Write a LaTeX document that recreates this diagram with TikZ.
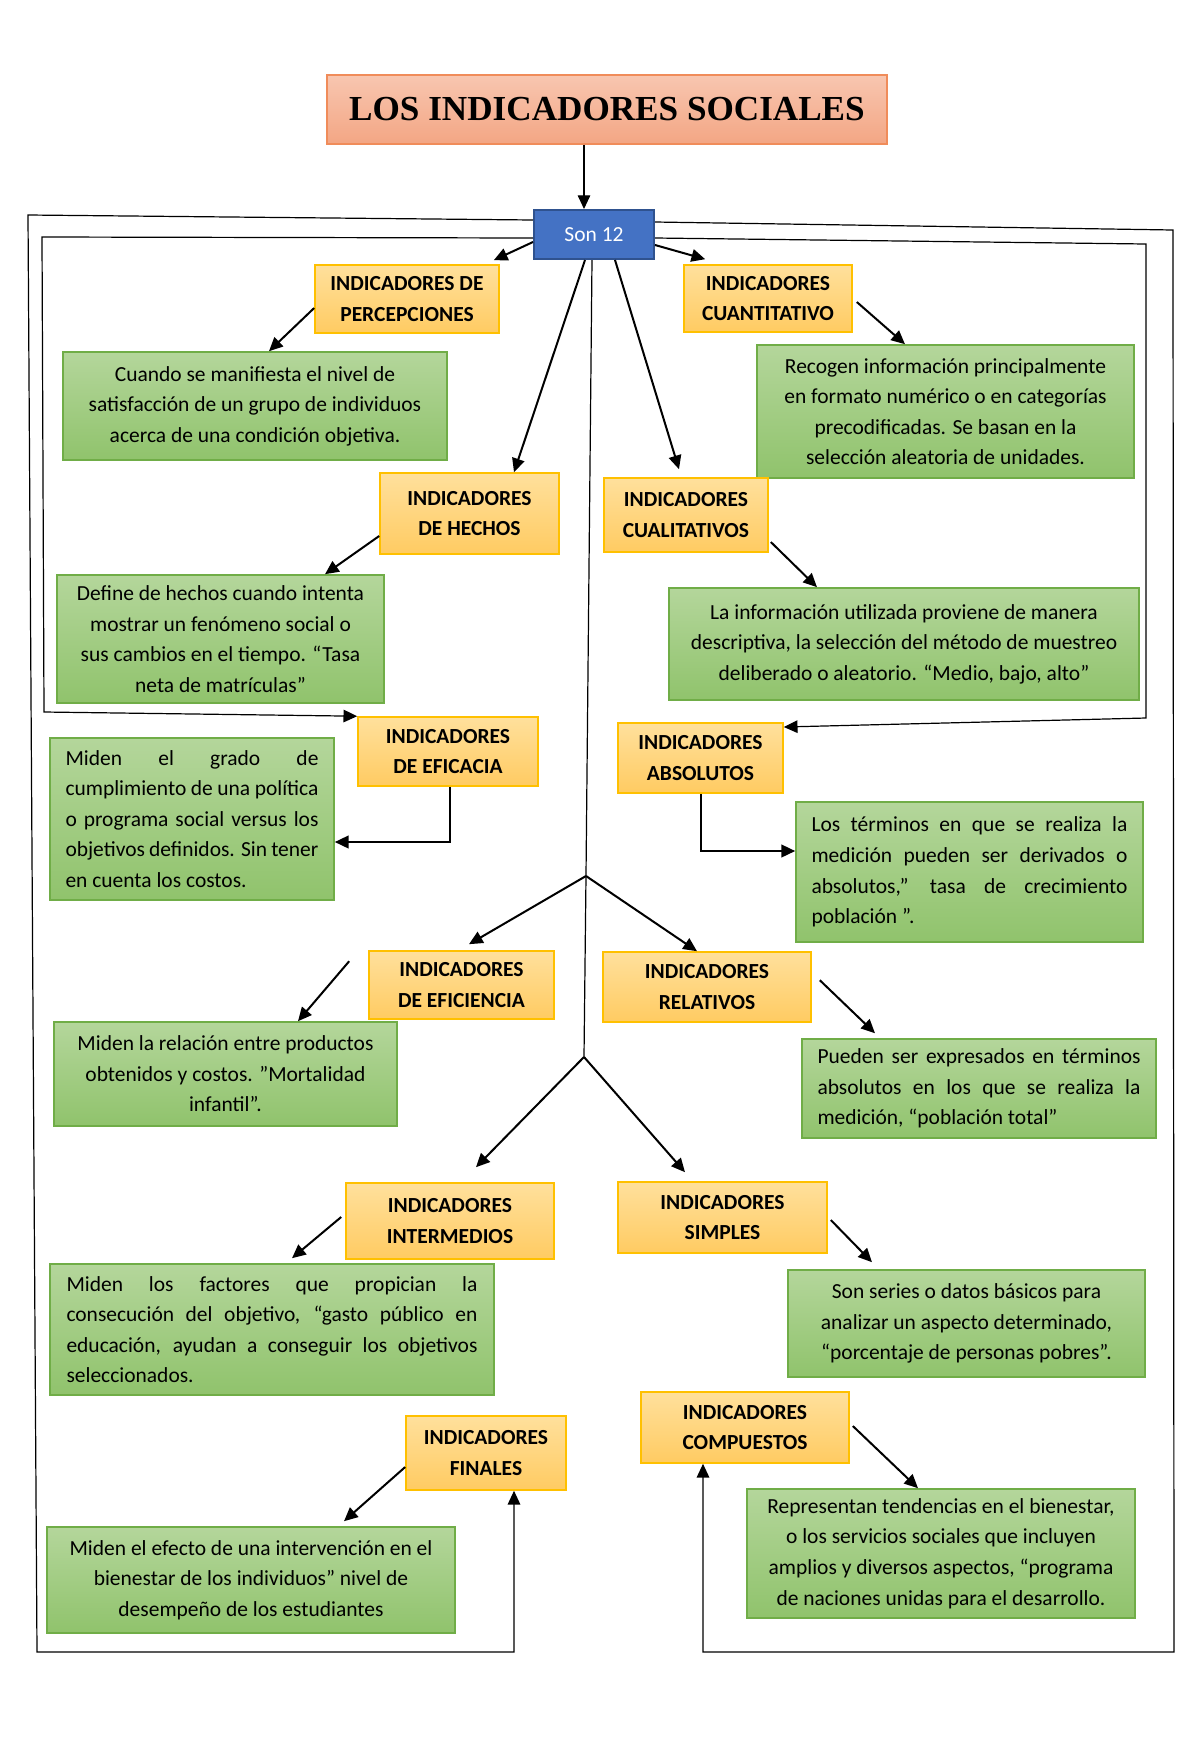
\documentclass[tikz,border=0pt]{standalone}
\usepackage{fontspec}
\setmainfont{Carlito}
\newfontfamily\titlefont{Liberation Serif}
\usetikzlibrary{arrows.meta,calc}
\definecolor{saltop}{RGB}{248,198,176}
\definecolor{salbot}{RGB}{243,166,132}
\definecolor{salline}{RGB}{240,140,90}
\definecolor{sonblue}{RGB}{68,114,196}
\definecolor{sonline}{RGB}{47,82,143}
\definecolor{ytop}{RGB}{255,224,156}
\definecolor{ybot}{RGB}{255,203,98}
\definecolor{yline}{RGB}{255,192,0}
\definecolor{gtop}{RGB}{180,214,155}
\definecolor{gbot}{RGB}{144,195,108}
\definecolor{gline}{RGB}{112,173,71}
\newlength\pxu
\setlength\pxu{0.0175cm}
\tikzset{
  titlebox/.style={
    draw=salline,
    line width=0.8pt,
    top color=saltop,
    bottom color=salbot,
    inner sep=0pt,
    font=\titlefont\bfseries\fontsize{17.5}{20}\selectfont
  },
  sonbox/.style={
    draw=sonline,
    line width=1pt,
    fill=sonblue,
    text=white,
    inner sep=0pt,
    font=\fontsize{10.7}{13}\selectfont
  },
  ybox/.style={
    draw=yline,
    line width=0.8pt,
    top color=ytop,
    bottom color=ybot,
    align=center,
    inner sep=0pt,
    font=\bfseries\fontsize{10.7}{15.2}\selectfont
  },
  gbox/.style={
    draw=gline,
    line width=0.8pt,
    top color=gtop,
    bottom color=gbot,
    align=center,
    inner sep=0pt,
    font=\fontsize{10.7}{15.2}\selectfont
  },
  gjust/.style={
    gbox,
    align=justify,
    text width=#1\pxu,
    execute at begin node=\setlength{\parindent}{0pt}
  },
  sz/.style 2 args={minimum width=#1\pxu, minimum height=#2\pxu},
  arr/.style={-{Triangle[length=2.4mm,width=2.2mm]}, line width=1pt},
  marco/.style={line width=0.6pt},
  marcoarr/.style={marco, -{Triangle[length=2.4mm,width=2.2mm]}}
}

\begin{document}
\begin{tikzpicture}[x=0.0175cm, y=-0.0175cm]
  \useasboundingbox (0,0) rectangle (1200,1759);

  \node[titlebox, sz={560}{69}] (titulo) at (607,109.5) {LOS INDICADORES SOCIALES};
  \node[sonbox, sz={120}{49}] (son) at (594,234.5) {Son 12};

  \node[ybox, sz={184}{68}] (per) at (407,299) {INDICADORES DE\\PERCEPCIONES};
  \node[ybox, sz={168}{67}] (cuan) at (768,298.5) {INDICADORES\\CUANTITATIVO};
  \node[gbox, sz={384}{108}] (g1) at (255,406) {Cuando se manifiesta el nivel de\\satisfacción de un grupo de individuos\\acerca de una condición objetiva.};
  \node[gbox, sz={377}{133}] (g2) at (945.5,411.5) {Recogen información principalmente\\en formato numérico o en categorías\\precodificadas. Se basan en la\\selección aleatoria de unidades.};

  \node[ybox, sz={179}{81}] (hech) at (469.5,513.5) {INDICADORES\\DE HECHOS};
  \node[ybox, sz={164}{74}] (cual) at (686,515) {INDICADORES\\CUALITATIVOS};
  \node[gbox, sz={327}{128}] (g3) at (220.5,639) {Define de hechos cuando intenta\\mostrar un fenómeno social o\\sus cambios en el tiempo. “Tasa\\neta de matrículas”};
  \node[gbox, sz={470}{112}] (g4) at (904,644) {La información utilizada proviene de manera\\descriptiva, la selección del método de muestreo\\deliberado o aleatorio. “Medio, bajo, alto”};

  \node[ybox, sz={180}{69}] (efa) at (448,751.5) {INDICADORES\\DE EFICACIA};
  \node[ybox, sz={165}{70}] (abs) at (700.5,758) {INDICADORES\\ABSOLUTOS};
  \node[gjust=253, sz={284}{162}] (g5) at (192,819) {Miden el grado de\linebreak cumplimiento de una política\linebreak o programa social versus los\linebreak objetivos definidos. Sin tener\linebreak en cuenta los costos.};
  \node[gjust=316, sz={347}{140}] (g6) at (969.5,872) {Los términos en que se realiza la\linebreak medición pueden ser derivados o\linebreak absolutos,” tasa de crecimiento\linebreak población ”.};

  \node[ybox, sz={185}{68}] (efi) at (461.5,985) {INDICADORES\\DE EFICIENCIA};
  \node[ybox, sz={208}{70}] (rel) at (707,987) {INDICADORES\\RELATIVOS};
  \node[gbox, sz={343}{104}] (g7) at (225.5,1074) {Miden la relación entre productos\\obtenidos y costos. ”Mortalidad\\infantil”.};
  \node[gjust=323, sz={354}{99}] (g8) at (979,1088.5) {Pueden ser expresados en términos\linebreak absolutos en los que se realiza la\linebreak medición, “población total”};

  \node[ybox, sz={208}{76}] (inter) at (450,1221) {INDICADORES\\INTERMEDIOS};
  \node[ybox, sz={209}{71}] (simp) at (722.5,1217.5) {INDICADORES\\SIMPLES};
  \node[gjust=411, sz={444}{131}] (g9) at (272,1329.5) {Miden los factores que propician la\linebreak consecución del objetivo, “gasto público en\linebreak educación, ayudan a conseguir los objetivos\linebreak seleccionados.};
  \node[gbox, sz={357}{107}] (g11) at (966.5,1323.5) {Son series o datos básicos para\\analizar un aspecto determinado,\\“porcentaje de personas pobres”.};

  \node[ybox, sz={160}{74}] (fin) at (486,1453) {INDICADORES\\FINALES};
  \node[ybox, sz={208}{71}] (comp) at (745,1427.5) {INDICADORES\\COMPUESTOS};
  \node[gbox, sz={408}{106}] (g10) at (251,1580) {Miden el efecto de una intervención en el\\bienestar de los individuos” nivel de\\desempeño de los estudiantes};
  \node[gbox, sz={388}{129}] (g12) at (941,1553.5) {Representan tendencias en el bienestar,\\o los servicios sociales que incluyen\\amplios y diversos aspectos, “programa\\de naciones unidas para el desarrollo.};

  \coordinate (b1) at (586,876);
  \coordinate (b2) at (584,1057);

  \draw[marcoarr] (titulo.south -| 584,0) -- (son.north -| 584,0);
  \draw[marcoarr] (son.west |- 0,220) -- (28,215) -- (37,1652) -- (514,1652) -- (fin.south -| 514,0);
  \draw[marcoarr] (son.west |- 0,238) -- (42,237) -- (44,712) -- (efa.north west);
  \draw[marcoarr] (son.east |- 0,222) -- (1173,230) -- (1174,1652) -- (703,1652) -- (comp.south -| 703,0);
  \draw[marcoarr] (son.east |- 0,238) -- (1146,244) -- (1146,718) -- (abs.east |- 0,727);
  \draw[marco] (son.south -| 592,0) -- (b1) -- (b2);

  \draw[arr] (son.west |- 0,242) -- ($(per.north east)+(-6,-4)$);
  \draw[arr] (son.east |- 0,245) -- ($(cuan.north west)+(22,-5)$);
  \draw[arr] (son.south -| 585,0) -- (hech.north -| 514,0);
  \draw[arr] (son.south -| 615,0) -- ($(cual.north -| 679,0)+(0,-8)$);
  \draw[arr] (per.west |- 0,308) -- (g1.north -| 269,0);
  \draw[arr] ($(cuan.east |- 0,302)+(4,0)$) -- (g2.north -| 905,0);
  \draw[arr] (hech.west |- 0,536) -- (g3.north -| 325,0);
  \draw[arr] ($(cual.east |- 0,542)+(2,0)$) -- (g4.north -| 817,0);
  \draw[arr] (efa.south -| 450,0) |- (g5.east |- 0,842);
  \draw[arr] (abs.south -| 701,0) |- (g6.west |- 0,851);
  \draw[arr] (b1) -- ($(efi.north -| 469,0)+(0,-6)$);
  \draw[arr] (b1) -- (rel.north -| 697,0);
  \draw[arr] ($(efi.north west)+(-19,11)$) -- (g7.north -| 298,0);
  \draw[arr] ($(rel.north east)+(8,29)$) -- ($(g8.north -| 875,0)+(0,-5)$);
  \draw[arr] (b2) -- ($(inter.north -| 476,0)+(0,-15)$);
  \draw[arr] (b2) -- ($(simp.north -| 685,0)+(0,-9)$);
  \draw[arr] ($(inter.west |- 0,1217)+(-4,0)$) -- ($(g9.north -| 292,0)+(0,-5)$);
  \draw[arr] ($(simp.east |- 0,1220)+(3,0)$) -- ($(g11.north -| 872,0)+(0,-7)$);
  \draw[arr] (fin.west |- 0,1467) -- ($(g10.north -| 344,0)+(0,-5)$);
  \draw[arr] ($(comp.east |- 0,1426)+(3,0)$) -- (g12.north -| 918,0);
\end{tikzpicture}
\end{document}
